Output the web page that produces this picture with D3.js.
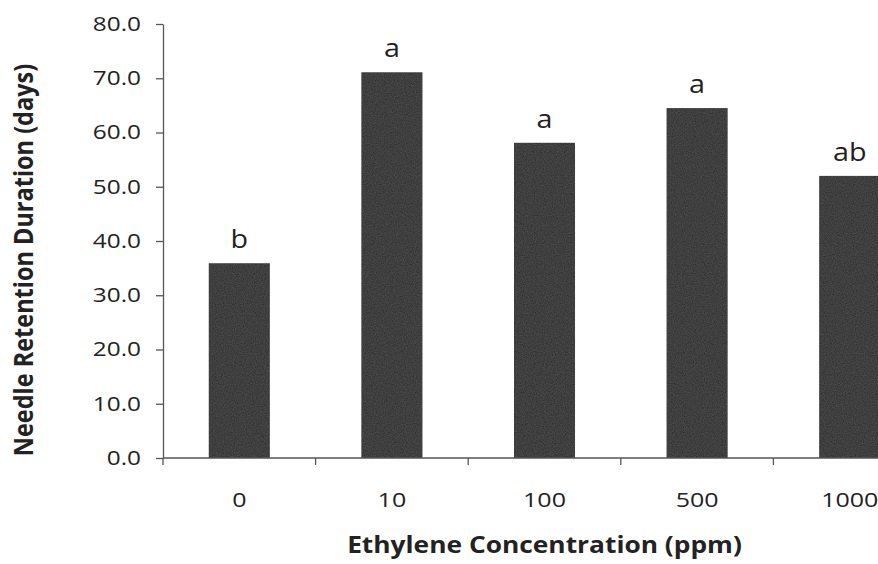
<!DOCTYPE html>
<html><head><meta charset="utf-8">
<script src="https://cdn.jsdelivr.net/npm/d3@7"></script>
<style>body{margin:0;background:#fff}svg{display:block}</style>
</head><body>
<svg id="c" width="878" height="564"></svg>
<script>
const categories = ["0", "10", "100", "500", "1000"];
const values = [35.9, 71.1, 58.1, 64.5, 52.0];
const letters = ["b", "a", "a", "a", "ab"];
const yTicks = [0, 10, 20, 30, 40, 50, 60, 70, 80];

(function () {
const svg = d3.select("#c");
const font = "'Open Sans', 'Noto Sans', sans-serif";
const ink = "#222";
const mL = 163, mR = 926, mT = 24, mB = 458;
const x = d3.scaleBand().domain(categories).range([mL, mR]).paddingInner(0.6).paddingOuter(0.3);
const y = d3.scaleLinear().domain([0, 80]).range([mB, mT]);
const sx = 1.25;

// grain texture for bars
const defs = svg.append("defs");
const f = defs.append("filter").attr("id", "grain").attr("x", 0).attr("y", 0).attr("width", 1).attr("height", 1);
f.append("feTurbulence").attr("type", "fractalNoise").attr("baseFrequency", 0.9).attr("numOctaves", 2).attr("seed", 3).attr("result", "n");
f.append("feColorMatrix").attr("in", "n").attr("type", "matrix")
  .attr("values", "0 0 0 0 0.4  0 0 0 0 0.4  0 0 0 0 0.4  0 0 0 0.15 0").attr("result", "g");
f.append("feComposite").attr("in", "g").attr("in2", "SourceGraphic").attr("operator", "in").attr("result", "gc");
const fm = f.append("feMerge");
fm.append("feMergeNode").attr("in", "SourceGraphic");
fm.append("feMergeNode").attr("in", "gc");

// bars
svg.selectAll("rect.bar").data(values).enter().append("rect")
  .attr("class", "bar")
  .attr("x", (d, i) => x(categories[i]))
  .attr("width", x.bandwidth())
  .attr("y", d => y(d))
  .attr("height", d => y(0) - y(d))
  .attr("fill", "#292929")
  .attr("filter", "url(#grain)");

// letters
svg.selectAll("text.lt").data(values).enter().append("text")
  .attr("class", "lt")
  .attr("transform", (d, i) => `translate(${x(categories[i]) + x.bandwidth() / 2},${y(d) - 15}) scale(1.15,1)`)
  .attr("text-anchor", "middle")
  .attr("font-family", font).attr("font-size", 25).attr("font-weight", 500).attr("fill", ink)
  .text((d, i) => letters[i]);

// y axis
const ya = svg.append("g").attr("transform", `translate(${mL},0)`)
  .call(d3.axisLeft(y).tickValues(yTicks).tickSize(7).tickSizeOuter(0).tickFormat(d3.format(".1f")));
ya.select(".domain").attr("stroke", "#555").attr("stroke-width", 1.3);
ya.selectAll(".tick line").attr("stroke", "#555").attr("stroke-width", 1.3);
ya.selectAll(".tick text").attr("font-family", font).attr("font-size", 19.5).attr("font-weight", 500).attr("fill", ink)
  .attr("x", -22 / sx).attr("transform", `scale(${sx},1)`);

// x axis with ticks at category boundaries
const xa = svg.append("g").attr("transform", `translate(0,${mB})`);
xa.append("line").attr("x1", mL).attr("x2", mR).attr("stroke", "#555").attr("stroke-width", 1.3);
const step = x.step();
const bounds = categories.map((c, i) => x(c) - (step - x.bandwidth()) / 2).concat([mR]);
xa.selectAll("line.tk").data(bounds).enter().append("line")
  .attr("class", "tk")
  .attr("x1", d => d).attr("x2", d => d).attr("y1", 0).attr("y2", 7)
  .attr("stroke", "#555").attr("stroke-width", 1.3);
xa.selectAll("text.xl").data(categories).enter().append("text")
  .attr("class", "xl")
  .attr("transform", d => `translate(${x(d) + x.bandwidth() / 2},49) scale(${sx},1)`)
  .attr("text-anchor", "middle")
  .attr("font-family", font).attr("font-size", 20).attr("font-weight", 500).attr("fill", ink)
  .text(d => d);

// titles
svg.append("text").attr("transform", `translate(${(mL + mR) / 2},553) scale(1.145,1)`)
  .attr("text-anchor", "middle").attr("font-family", font).attr("font-weight", "bold")
  .attr("font-size", 23).attr("fill", ink).text("Ethylene Concentration (ppm)");
svg.append("text").attr("transform", `translate(33,260) rotate(-90) scale(1,1.15)`)
  .attr("text-anchor", "middle").attr("font-family", font).attr("font-weight", "bold")
  .attr("font-size", 23.5).attr("fill", ink).text("Needle Retention Duration (days)");
})();
</script>
</body></html>
